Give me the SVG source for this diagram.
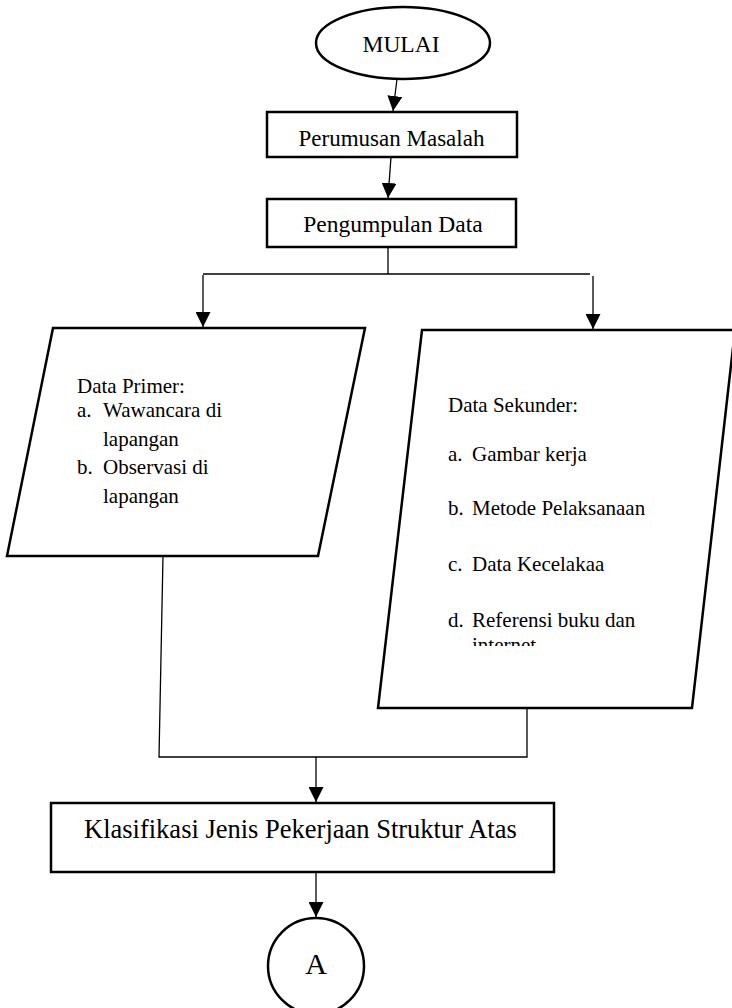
<svg xmlns="http://www.w3.org/2000/svg" width="732" height="1008" viewBox="0 0 732 1008">
<style>
.shape{fill:#fff;stroke:#000;stroke-width:2.5}
.conn{fill:none;stroke:#000;stroke-width:1.3}
.t{font-family:"Liberation Serif","Times New Roman",serif;fill:#000}
</style>
<defs>
<marker id="arr" viewBox="0 0 10 10" refX="10" refY="5" markerWidth="15" markerHeight="15" markerUnits="userSpaceOnUse" orient="auto">
<path d="M0,0 L10,5 L0,10 z" fill="#000"/>
</marker>
<clipPath id="clipSek"><rect x="380" y="330" width="352" height="316"/></clipPath>
</defs>
<rect width="732" height="1008" fill="#fff"/>

<g id="connectors">
<line class="conn" x1="397" y1="79" x2="393" y2="111" marker-end="url(#arr)"/>
<line class="conn" x1="391" y1="157" x2="388" y2="198" marker-end="url(#arr)"/>
<polyline class="conn" points="388,248 388,274"/>
<line class="conn" x1="203" y1="274" x2="590" y2="274"/>
<line class="conn" x1="203" y1="275" x2="203" y2="327" marker-end="url(#arr)"/>
<line class="conn" x1="593" y1="276" x2="593" y2="329" marker-end="url(#arr)"/>
<polyline class="conn" points="163,556 159,757 527,757 527,708"/>
<line class="conn" x1="316" y1="757" x2="316" y2="802" marker-end="url(#arr)"/>
<line class="conn" x1="316" y1="872" x2="316" y2="917" marker-end="url(#arr)"/>
</g>

<g id="mulai">
<ellipse class="shape" cx="403" cy="43" rx="87" ry="36"/>
<text class="t" x="401" y="52" font-size="23.5" text-anchor="middle">MULAI</text>
</g>

<g id="perumusan">
<rect class="shape" x="267" y="112" width="250" height="45"/>
<text class="t" x="391.5" y="146" font-size="23" text-anchor="middle">Perumusan Masalah</text>
</g>

<g id="pengumpulan">
<rect class="shape" x="267" y="199" width="249" height="48"/>
<text class="t" x="393" y="232" font-size="23.5" text-anchor="middle">Pengumpulan Data</text>
</g>

<g id="data-primer">
<polygon class="shape" points="53,328 365,328 318,556 7,556"/>
<text class="t" font-size="21">
<tspan x="77" y="393">Data Primer:</tspan>
<tspan x="77" y="417">a.</tspan><tspan x="103" y="417">Wawancara di</tspan>
<tspan x="103" y="446">lapangan</tspan>
<tspan x="77" y="474">b.</tspan><tspan x="103" y="474">Observasi di</tspan>
<tspan x="103" y="503">lapangan</tspan>
</text>
</g>

<g id="data-sekunder">
<polygon class="shape" points="422,330 735,330 692,708 378,708"/>
<text class="t" font-size="21" clip-path="url(#clipSek)">
<tspan x="448" y="412">Data Sekunder:</tspan>
<tspan x="448" y="461">a.</tspan><tspan x="472" y="461">Gambar kerja</tspan>
<tspan x="448" y="515">b.</tspan><tspan x="472" y="515">Metode Pelaksanaan</tspan>
<tspan x="448" y="571">c.</tspan><tspan x="472" y="571">Data Kecelakaa</tspan>
<tspan x="448" y="627">d.</tspan><tspan x="472" y="627">Referensi buku dan</tspan>
<tspan x="472" y="652">internet</tspan>
</text>
</g>

<g id="klasifikasi">
<rect class="shape" x="51" y="803" width="503" height="69"/>
<text class="t" x="84" y="838" font-size="26.5">Klasifikasi Jenis Pekerjaan Struktur Atas</text>
</g>

<g id="connector-a">
<circle class="shape" cx="316" cy="966" r="48"/>
<text class="t" x="316" y="974" font-size="30" text-anchor="middle">A</text>
</g>
</svg>
